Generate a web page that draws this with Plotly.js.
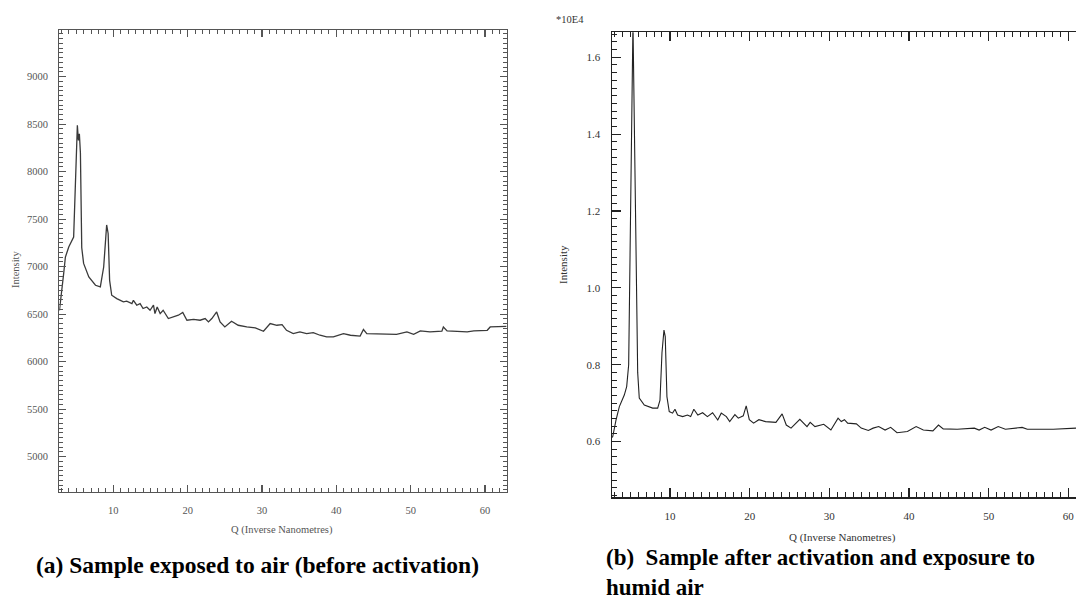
<!DOCTYPE html>
<html>
<head>
<meta charset="utf-8">
<script src="https://cdn.plot.ly/plotly-3.0.1.min.js"></script>
<style>html,body{margin:0;padding:0;background:#fff;}#chart{width:1076px;height:601px;}</style>
</head>
<body>
<div id="chart"></div>
<script>
// (a) Sample exposed to air (before activation)
const qA = [2.75, 2.88, 3.1, 3.32, 3.55, 4.0, 4.66, 4.85, 5.0, 5.16, 5.3, 5.43, 5.57, 5.65, 5.75, 6.0, 6.7, 7.6, 8.25, 8.7, 9.0, 9.1, 9.3, 9.5, 9.78,
  10.46, 11.35, 11.8, 12.5, 12.7, 13.15, 13.6, 14.0, 14.5, 14.94, 15.4, 15.6, 15.9, 16.3, 16.7, 17.4, 18.1, 18.75, 19.34, 19.9,
  20.8, 21.67, 22.35, 22.8, 23.25, 23.9, 24.36, 25.0, 25.9, 26.8, 27.95, 29.1, 30.2, 31.1, 32.0, 32.7, 33.3, 34.2, 35.1, 36.0,
  36.9, 37.8, 38.7, 39.6, 40.96, 41.9, 43.2, 43.65, 44.1, 46.35, 48.1, 49.5, 50.4, 51.3, 52.6, 54.2, 54.4, 54.9, 57.6, 58.5,
  60.3, 60.7, 62.5, 62.9];
const intensityA = [6540, 6615, 6787, 6930, 7102, 7207, 7312, 7700, 8200, 8490, 8330, 8400, 8200, 7500, 7200, 7035, 6892, 6805, 6787, 6997, 7435, 7440, 7350, 6857, 6700,
  6665, 6630, 6637, 6612, 6647, 6595, 6612, 6560, 6577, 6542, 6595, 6507, 6577, 6507, 6542, 6455, 6472, 6490, 6518, 6437,
  6446, 6437, 6455, 6419, 6455, 6524, 6419, 6366, 6426, 6384, 6366, 6356, 6321, 6402, 6384, 6391, 6331, 6296, 6314, 6296,
  6307, 6279, 6261, 6261, 6296, 6279, 6270, 6339, 6296, 6296, 6289, 6314, 6289, 6324, 6314, 6321, 6366, 6324, 6314, 6324,
  6331, 6366, 6373, 6373];

// (b) Sample after activation and exposure to humid air (units of 10E4)
const qB = [2.69, 2.82, 3.23, 3.65, 4.27, 4.57, 4.82, 4.9, 5.0, 5.1, 5.2, 5.3, 5.36, 5.45, 5.58, 5.7, 5.83, 5.95, 6.15, 6.78, 7.83, 8.46, 8.75,
  9.0, 9.25, 9.41, 9.62, 9.91, 10.33, 10.63, 10.96, 11.6, 12.2, 12.6, 13.0, 13.5, 14.1, 14.7, 15.35, 16.0, 16.44, 17.08, 17.5,
  18.15, 18.58, 19.2, 19.57, 19.96, 20.5, 21.16, 22.0, 23.3, 24.08, 24.6, 25.2, 26.3, 27.2, 27.6, 28.2, 29.3, 30.2, 31.1, 31.5,
  31.9, 32.3, 33.4, 34.0, 34.9, 35.5, 36.2, 37.0, 37.7, 38.5, 39.8, 40.9, 41.8, 43.0, 43.7, 44.3, 46.05, 48.2, 48.8, 49.5, 50.3,
  51.2, 52.1, 54.2, 54.85, 58.1, 60.6, 60.96];
const intensityB = [0.610, 0.613, 0.656, 0.691, 0.721, 0.743, 0.800, 0.950, 1.120, 1.320, 1.480, 1.600, 1.690, 1.550, 1.350, 1.150, 0.900, 0.780, 0.713, 0.695, 0.687, 0.687, 0.708,
  0.831, 0.890, 0.873, 0.717, 0.678, 0.674, 0.684, 0.669, 0.665, 0.669, 0.665, 0.684, 0.669, 0.675, 0.665, 0.675, 0.656, 0.674, 0.665, 0.652,
  0.670, 0.661, 0.667, 0.693, 0.657, 0.648, 0.657, 0.652, 0.650, 0.672, 0.643, 0.635, 0.658, 0.639, 0.650, 0.639, 0.645, 0.630, 0.661, 0.652,
  0.657, 0.648, 0.646, 0.635, 0.629, 0.635, 0.639, 0.630, 0.637, 0.623, 0.626, 0.639, 0.630, 0.628, 0.643, 0.633, 0.632, 0.635, 0.630, 0.637, 0.630,
  0.639, 0.632, 0.637, 0.632, 0.632, 0.635, 0.635];

const xTitle = 'Q (Inverse Nanometres)';
const yTitle = 'Intensity';
const scaleLabel = '*10E4';
const captionA = '(a) Sample exposed to air (before activation)';
const captionB1 = '(b)  Sample after activation and exposure to';
const captionB2 = 'humid air';

const W = 1076, H = 601;
const px = x => x / W;
const py = y => 1 - y / H;

const serif = '"Liberation Serif", "Times New Roman", serif';

const traces = [
  {x: qA, y: intensityA, xaxis: 'x', yaxis: 'y', type: 'scatter', mode: 'lines',
   line: {color: '#3a3a3a', width: 1.3}, hoverinfo: 'skip'},
  {x: qB, y: intensityB, xaxis: 'x2', yaxis: 'y2', type: 'scatter', mode: 'lines',
   line: {color: '#222', width: 1.1}, hoverinfo: 'skip'}
];

function axisBase(color, tfsize, tcol, majorLen, minorLen, minorD) {
  return {
    showgrid: false, zeroline: false, showline: true, linecolor: color, linewidth: 1.2,
    ticks: 'inside', ticklen: majorLen, tickwidth: 1.2, tickcolor: color,
    tickfont: {family: serif, size: tfsize, color: tcol},
    minor: {ticks: 'inside', ticklen: minorLen, tickwidth: 1, tickcolor: color, dtick: minorD, showgrid: false},
    fixedrange: true, automargin: false
  };
}

const layout = {
  width: W, height: H,
  margin: {l: 0, r: 0, t: 0, b: 0},
  paper_bgcolor: '#fff', plot_bgcolor: '#fff',
  showlegend: false,
  xaxis: Object.assign(axisBase('#555', 10.5, '#555', 7, 4, 1), {
    domain: [px(59.3), px(506.7)], range: [2.73, 62.92], tick0: 0, dtick: 10,
    anchor: 'y', mirror: 'allticks', ticklabelstandoff: 8
  }),
  yaxis: Object.assign(axisBase('#555', 10.5, '#555', 7, 4, 50), {
    domain: [py(491.7), py(30)], range: [4632, 9492], tick0: 0, dtick: 500,
    anchor: 'x', mirror: 'allticks', ticklabelstandoff: 8
  }),
  xaxis2: Object.assign(axisBase('#222', 11, '#333', 9, 5, 1), {
    domain: [px(611.7), 1], range: [2.69, 60.96], tick0: 0, dtick: 10,
    anchor: 'y2', mirror: 'allticks', ticklabelstandoff: 8
  }),
  yaxis2: Object.assign(axisBase('#222', 11, '#333', 9, 5, 0.02), {
    domain: [py(497.3), py(32.3)], range: [0.455, 1.665], tick0: 0, dtick: 0.2, tickformat: '.1f',
    anchor: 'x2', mirror: false, ticklabelstandoff: 8
  }),
  annotations: [
    {text: yTitle, xref: 'paper', yref: 'paper', x: px(15), y: py(270), textangle: -90, showarrow: false,
     xanchor: 'center', yanchor: 'middle', font: {family: serif, size: 10.5, color: '#555'}},
    {text: xTitle, xref: 'paper', yref: 'paper', x: px(282), y: py(530), showarrow: false,
     xanchor: 'center', yanchor: 'middle', font: {family: serif, size: 10.5, color: '#555'}},
    {text: scaleLabel, xref: 'paper', yref: 'paper', x: px(570), y: py(20), showarrow: false,
     xanchor: 'center', yanchor: 'middle', font: {family: serif, size: 10.5, color: '#333'}},
    {text: yTitle, xref: 'paper', yref: 'paper', x: px(563), y: py(265), textangle: -90, showarrow: false,
     xanchor: 'center', yanchor: 'middle', font: {family: serif, size: 11, color: '#333'}},
    {text: xTitle, xref: 'paper', yref: 'paper', x: px(842), y: py(537), showarrow: false,
     xanchor: 'center', yanchor: 'middle', font: {family: serif, size: 11, color: '#333'}},
    {text: '<b>' + captionA + '</b>', xref: 'paper', yref: 'paper', x: px(34), y: py(565), showarrow: false,
     xanchor: 'left', yanchor: 'middle', font: {family: serif, size: 23.5, color: '#000'}},
    {text: '<b>' + captionB1 + '</b><br><b>' + captionB2 + '</b>', xref: 'paper', yref: 'paper', x: px(605), y: 0,
     showarrow: false, xanchor: 'left', yanchor: 'bottom', align: 'left', borderpad: 0,
     font: {family: serif, size: 23, color: '#000'}}
  ]
};

Plotly.newPlot('chart', traces, layout, {staticPlot: true, displayModeBar: false});
</script>
</body>
</html>
